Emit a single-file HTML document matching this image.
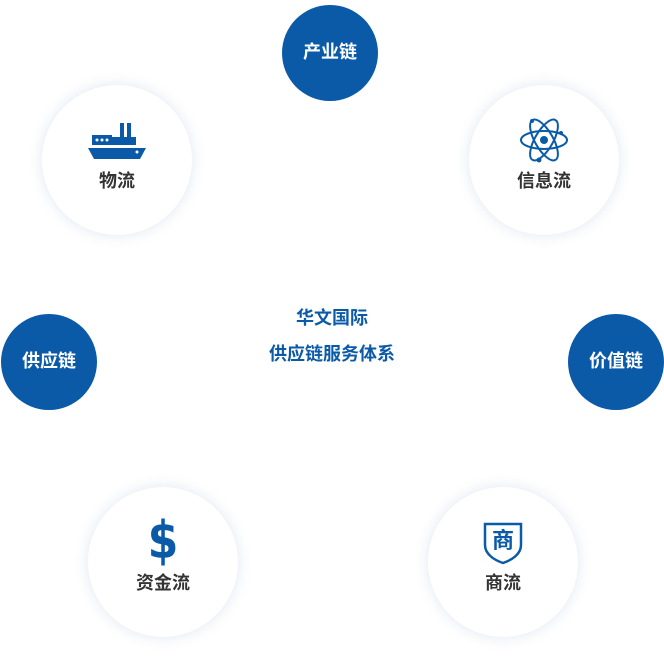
<!DOCTYPE html>
<html><head><meta charset="utf-8"><style>
body{margin:0;width:664px;height:664px;background:#fff;position:relative;overflow:hidden;font-family:"Liberation Sans","Noto Sans CJK SC",sans-serif}
.b{position:absolute;width:96px;height:96px;border-radius:50%;background:#0a5aa8;color:#fff;font-weight:bold;font-size:18px;display:flex;align-items:center;justify-content:center;box-sizing:border-box;padding-bottom:5px}
.w{position:absolute;width:150px;height:150px;border-radius:50%;background:#fff;box-shadow:0 0 14px rgba(60,100,170,0.16)}
.t{position:absolute;left:0;width:150px;top:82px;text-align:center;font-weight:bold;font-size:18px;color:#333}
.w svg{position:absolute}
.c{position:absolute;left:232px;width:200px;text-align:center;color:#0a5aa8;font-weight:bold;font-size:18px}
</style></head><body>
<div class="b" style="left:282px;top:5px">产业链</div>
<div class="b" style="left:1px;top:314px">供应链</div>
<div class="b" style="left:568px;top:314px">价值链</div>

<div class="w" style="left:42px;top:85px">
<svg style="left:44px;top:36px" width="62" height="40" viewBox="0 0 62 40">
<rect x="34" y="2" width="4" height="14" fill="#0a5aa8"/><rect x="41" y="2" width="4" height="14" fill="#0a5aa8"/>
<rect x="6" y="14" width="20" height="10" fill="#0a5aa8"/><rect x="26" y="16" width="24" height="8" fill="#0a5aa8"/>
<circle cx="11" cy="19" r="1.5" fill="#fff"/><circle cx="16" cy="19" r="1.5" fill="#fff"/><circle cx="21" cy="19" r="1.5" fill="#fff"/>
<path d="M2 27H60L54 38H8Z" fill="#0a5aa8"/><circle cx="51" cy="31" r="1.5" fill="#fff"/>
</svg>
<div class="t">物流</div></div>

<div class="w" style="left:469px;top:85px">
<svg style="left:50px;top:30px" width="50" height="50" viewBox="-25 -25 50 50" fill="none" stroke="#0a5aa8" stroke-width="2">
<ellipse rx="23" ry="9"/><ellipse rx="23" ry="9" transform="rotate(60)"/><ellipse rx="23" ry="9" transform="rotate(-60)"/>
<circle r="4" fill="#0a5aa8" stroke="none"/><circle cx="-5" cy="20" r="2.5" fill="#0a5aa8" stroke="none"/><circle cx="17" cy="-7" r="2" fill="#0a5aa8" stroke="none"/><circle cx="-12" cy="-19" r="2" fill="#0a5aa8" stroke="none"/>
</svg>
<div class="t">信息流</div></div>

<div class="w" style="left:88px;top:487px">
<div style="position:absolute;left:0;width:150px;top:28px;text-align:center;color:#0a5aa8;font-weight:bold;font-size:52px;line-height:52px;font-family:'DejaVu Sans',sans-serif;transform:scaleX(0.85)">$</div>
<div class="t">资金流</div></div>

<div class="w" style="left:428px;top:487px">
<svg style="left:55px;top:34px" width="40" height="44" viewBox="0 0 40 44">
<path d="M2 3H38V24C38 33 29 39 20 42C11 39 2 33 2 24Z" fill="none" stroke="#0a5aa8" stroke-width="2.5"/>
<text x="20" y="27" text-anchor="middle" font-size="22" font-weight="bold" fill="#0a5aa8" font-family="Noto Sans CJK SC,sans-serif">商</text>
</svg>
<div class="t">商流</div></div>

<div class="c" style="top:304px">华文国际</div>
<div class="c" style="top:340px">供应链服务体系</div>
</body></html>
